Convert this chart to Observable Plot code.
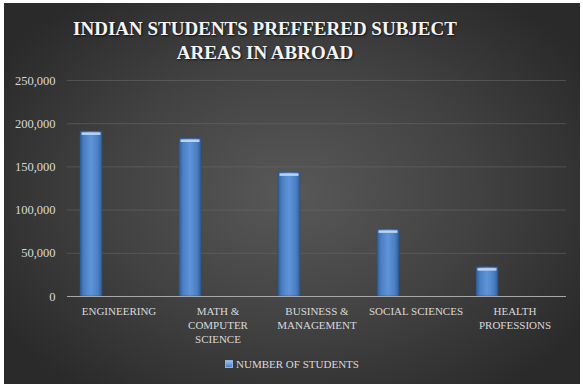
<!DOCTYPE html>
<html>
<head>
<meta charset="utf-8">
<script src="https://cdn.jsdelivr.net/npm/d3@7"></script>
<script src="https://cdn.jsdelivr.net/npm/@observablehq/plot@0.6"></script>
<style>
  html, body { margin: 0; padding: 0; background: #ffffff; }
  #frame {
    position: absolute; left: 4px; top: 3px; width: 576px; height: 381px;
    background: radial-gradient(ellipse 60% 65% at 50% 50%, #585858 0%, #414141 55%, #2a2a2a 100%);
    overflow: hidden;
    font-family: "Liberation Serif", "DejaVu Serif", serif;
  }
  #title {
    box-sizing: border-box; height: 66px; padding-top: 14px; padding-right: 54px;
    text-align: center; color: #f4f4f4; font-weight: bold; font-size: 19px; line-height: 23.5px;
    letter-spacing: 0px;
    text-shadow: 1px 1px 2px rgba(0,0,0,0.7);
  }
  #chart svg { display: block; }
  #legend {
    height: 27px; line-height: 20px; text-align: center; color: #d9d9d9; font-size: 11px;
  }
  #legend .sw {
    display: inline-block; width: 6px; height: 6px; margin-right: 3px; vertical-align: 0px;
    background: linear-gradient(#9cc0ee, #4a7fc4); border: 0.5px solid #8fb2e0;
  }
</style>
</head>
<body>
<div id="frame">
  <div id="title">INDIAN STUDENTS PREFFERED SUBJECT<br>AREAS IN ABROAD</div>
  <div id="chart"></div>
  <div id="legend"></div>
</div>
<script>
const categories = ["ENGINEERING", "MATH & COMPUTER SCIENCE", "BUSINESS & MANAGEMENT", "SOCIAL SCIENCES", "HEALTH PROFESSIONS"];
const tickLabels = ["ENGINEERING", "MATH &\nCOMPUTER\nSCIENCE", "BUSINESS &\nMANAGEMENT", "SOCIAL SCIENCES", "HEALTH\nPROFESSIONS"];
const students = [190800, 182600, 143400, 77400, 33700];
const seriesName = "NUMBER OF STUDENTS";
const yTicks = [0, 50000, 100000, 150000, 200000, 250000];

const data = categories.map((c, i) => ({category: c, value: students[i], label: tickLabels[i]}));

const plot = Plot.plot({
  width: 576,
  height: 285,
  marginTop: 11,
  marginBottom: 58,
  marginLeft: 63,
  marginRight: 14,
  style: {background: "transparent", color: "#d9d9d9", fontFamily: "Liberation Serif, DejaVu Serif, serif", fontSize: "12px"},
  x: {domain: categories, padding: 0, axis: null},
  y: {domain: [0, 250000]},
  marks: [
    Plot.gridY(yTicks.filter(d => d > 0), {stroke: "#6a6a6a", strokeOpacity: 0.55}),
    Plot.axisY({ticks: yTicks, tickSize: 0, tickPadding: 12, tickFormat: d3.format(","), label: null, fontSize: 12.5, fill: "#d9d9d9"}),
    Plot.barY(data, {x: "category", y: "value", fill: "url(#barGrad)", insetLeft: 11, insetRight: 66, stroke: "#2c5180", strokeWidth: 0.6}),
    Plot.tickY(data, {x: "category", y: "value", stroke: "#b9d4f5", strokeWidth: 2.5, dy: 2, insetLeft: 12.5, insetRight: 67.5}),
    Plot.ruleY([0], {stroke: "#a8a8a8", strokeWidth: 1.2}),
    Plot.text(data, {x: "category", text: "label", frameAnchor: "bottom", lineAnchor: "top", dy: 9, lineHeight: 1.27, fontSize: 11, fill: "#d9d9d9"})
  ]
});

const svg = d3.select(plot);
const defs = svg.insert("defs", ":first-child");
const g = defs.append("linearGradient").attr("id", "barGrad").attr("x1", 0).attr("x2", 1).attr("y1", 0).attr("y2", 0);
[[0, "#2d5c98"], [0.18, "#4a7fc4"], [0.5, "#5f94d8"], [0.82, "#4a7fc4"], [1, "#2d5c98"]]
  .forEach(([o, c]) => g.append("stop").attr("offset", o).attr("stop-color", c));

document.getElementById("chart").appendChild(plot);
document.getElementById("legend").innerHTML = '<span class="sw"></span>' + seriesName;
</script>
</body>
</html>
